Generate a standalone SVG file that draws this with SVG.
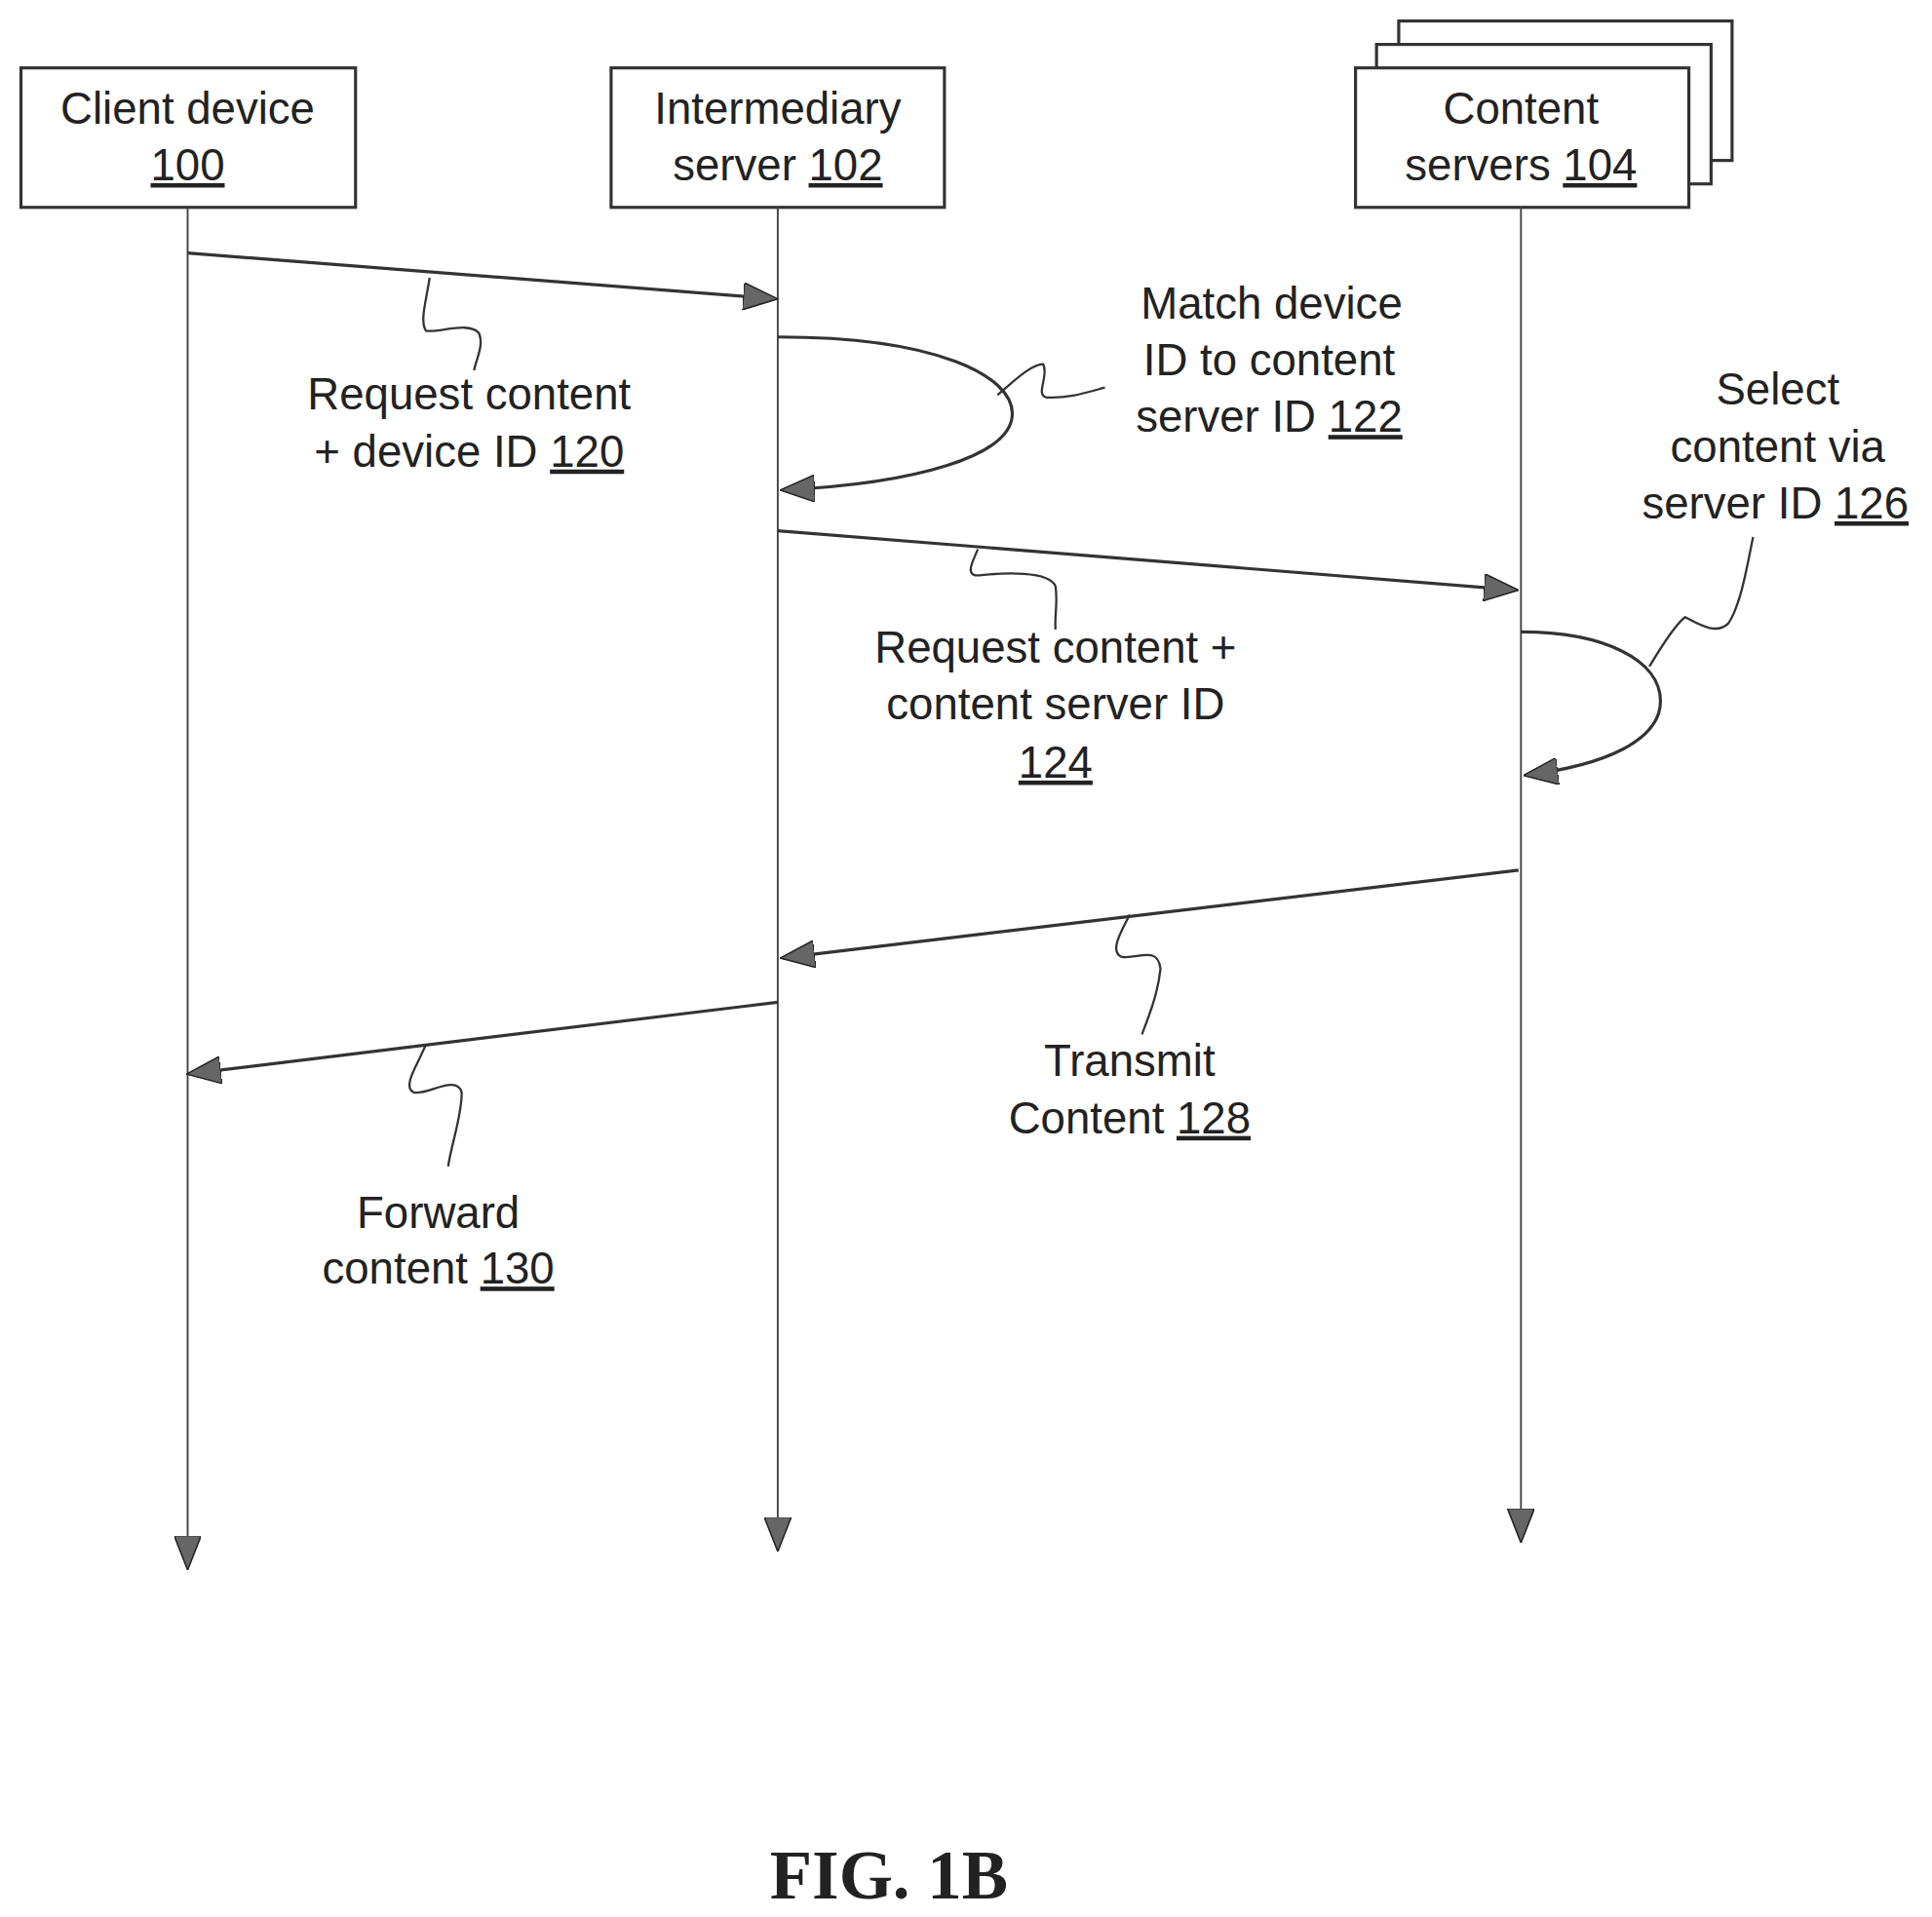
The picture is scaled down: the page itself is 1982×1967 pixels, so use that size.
<svg xmlns="http://www.w3.org/2000/svg" width="1982" height="1967" viewBox="0 0 1982 1967">
<defs>
<style>
.box{fill:#fff;stroke:#333;stroke-width:2.5}
.life{stroke:#444;stroke-width:1.5;fill:none}
.msg{stroke:#333;stroke-width:2.5;fill:none}
.sq{stroke:#333;stroke-width:1.8;fill:none}
text{font-family:"Liberation Sans",Arial,sans-serif;font-size:36px;fill:#222;text-anchor:middle}
.u{text-decoration:underline}
.fig{font-family:"Liberation Serif","Times New Roman",serif;font-weight:bold;font-size:56px}
</style>
<marker id="ahs" markerWidth="28" markerHeight="22" refX="26" refY="11" orient="auto" markerUnits="userSpaceOnUse" viewBox="0 0 28 22">
<path d="M0,0 L28,11 L0,22 Z" fill="#666" stroke="#222" stroke-width="1.2"/>
</marker>
</defs>
<rect width="1982" height="1967" fill="#fff"/>
<g transform="scale(1.2665)">
<g id="client">
<rect class="box" x="17" y="55" width="271" height="113"/>
<text x="152" y="100">Client device</text>
<text x="152" y="146" class="u">100</text>
</g>
<g id="intermediary">
<rect class="box" x="495" y="55" width="270" height="113"/>
<text x="630" y="100">Intermediary</text>
<text x="630" y="146">server <tspan class="u">102</tspan></text>
</g>
<g id="content">
<rect class="box" x="1133" y="17" width="270" height="113"/>
<rect class="box" x="1115" y="36" width="271" height="113"/>
<rect class="box" x="1098" y="55" width="270" height="113"/>
<text x="1232" y="100">Content</text>
<text x="1232" y="146">servers <tspan class="u">104</tspan></text>
</g>
<g id="connectors">
<line class="life" x1="152" y1="168" x2="152" y2="1270" marker-end="url(#ahs)"/>
<line class="life" x1="630" y1="168" x2="630" y2="1255" marker-end="url(#ahs)"/>
<line class="life" x1="1232" y1="168" x2="1232" y2="1248" marker-end="url(#ahs)"/>
<line class="msg" x1="152" y1="205" x2="628" y2="242" marker-end="url(#ahs)"/>
<path class="msg" d="M630,273 C760,273 820,305 820,335 C820,370 740,392 634,397" marker-end="url(#ahs)"/>
<line class="msg" x1="630" y1="430" x2="1228" y2="478" marker-end="url(#ahs)"/>
<path class="msg" d="M1232,512 C1300,512 1345,535 1345,568 C1345,600 1300,620 1236,628" marker-end="url(#ahs)"/>
<line class="msg" x1="1230" y1="705" x2="634" y2="776" marker-end="url(#ahs)"/>
<line class="msg" x1="630" y1="812" x2="153" y2="870" marker-end="url(#ahs)"/>
<path class="sq" d="M348,225 C345,245 340,260 345,268 C355,270 380,260 388,270 C392,280 386,290 384,300"/>
<path class="sq" d="M808,320 C820,310 835,295 845,295 C850,305 838,320 848,322 C865,323 880,318 895,314"/>
<path class="sq" d="M792,445 C788,455 780,468 795,466 C812,464 850,462 855,475 C857,488 854,500 855,510"/>
<path class="sq" d="M1336,540 C1345,525 1358,505 1365,500 C1375,505 1390,515 1400,505 C1410,490 1415,460 1420,435"/>
<path class="sq" d="M915,741 C910,752 898,770 908,775 C920,778 938,765 940,785 C938,805 930,825 925,838"/>
<path class="sq" d="M345,846 C340,860 325,880 335,885 C345,888 370,870 374,885 C374,905 366,925 363,945"/>
</g>
<g id="labels">
<text x="380" y="332">Request content</text>
<text x="380" y="378">+ device ID <tspan class="u">120</tspan></text>
<text x="1030" y="258">Match device</text>
<text x="1028" y="304">ID to content</text>
<text x="1028" y="350">server ID <tspan class="u">122</tspan></text>
<text x="855" y="537">Request content +</text>
<text x="855" y="583">content server ID</text>
<text x="855" y="630" class="u">124</text>
<text x="1440" y="328">Select</text>
<text x="1440" y="374">content via</text>
<text x="1438" y="420">server ID <tspan class="u">126</tspan></text>
<text x="915" y="872">Transmit</text>
<text x="915" y="918">Content <tspan class="u">128</tspan></text>
<text x="355" y="995">Forward</text>
<text x="355" y="1040">content <tspan class="u">130</tspan></text>
<text x="720" y="1538" class="fig">FIG. 1B</text>
</g>
</g>
</svg>
